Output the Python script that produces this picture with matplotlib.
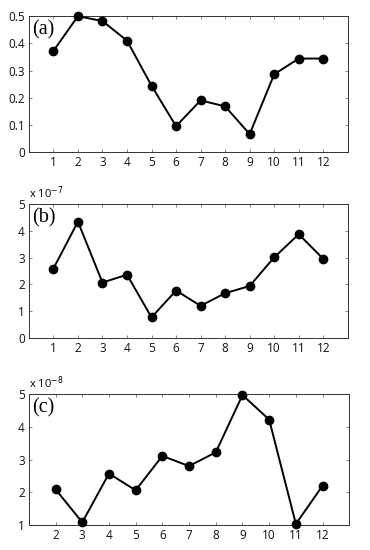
import matplotlib.pyplot as plt

# =====================================================
# DATA
# =====================================================

months_a = [1, 2, 3, 4, 5, 6, 7, 8, 9, 10, 11, 12]
values_a = [0.372, 0.500, 0.482, 0.410, 0.244, 0.095, 0.190, 0.168, 0.066, 0.286, 0.344, 0.344]

months_b = [1, 2, 3, 4, 5, 6, 7, 8, 9, 10, 11, 12]
values_b = [2.59, 4.34, 2.07, 2.36, 0.77, 1.77, 1.20, 1.67, 1.94, 3.01, 3.87, 2.95]  # x 1e-7

months_c = [2, 3, 4, 5, 6, 7, 8, 9, 10, 11, 12]
values_c = [2.09, 1.08, 2.57, 2.06, 3.11, 2.80, 3.22, 4.97, 4.22, 1.03, 2.20]  # x 1e-8

yticks_a = [0, 0.1, 0.2, 0.3, 0.4, 0.5]
ytick_labels_a = ['0', '0.1', '0.2', '0.3', '0.4', '0.5']
yticks_b = [0, 1, 2, 3, 4, 5]
yticks_c = [1, 2, 3, 4, 5]

# =====================================================
# STYLE
# =====================================================

plt.rcParams['font.family'] = ['Open Sans', 'DejaVu Sans']
plt.rcParams['mathtext.fontset'] = 'dejavusans'

fig = plt.figure(figsize=(3.7, 5.5), dpi=100)


def style_axes(ax):
    for sp in ax.spines.values():
        sp.set_linewidth(0.7)
        sp.set_color('#333333')
    ax.tick_params(direction='in', length=2.5, width=0.5, color='#555555',
                   top=True, right=True, labelsize=8.5, pad=3,
                   labelcolor='#111111')


def draw_panel(ax, x, y, label):
    ax.plot(x, y, color='black', linewidth=1.4, marker='o', clip_on=False,
            markersize=6, markerfacecolor='black', markeredgecolor='black',
            zorder=3)
    ax.text(0.01, 0.97, label, transform=ax.transAxes, ha='left', va='top',
            fontsize=14.5, family='Liberation Serif')
    style_axes(ax)


# (a)
ax1 = fig.add_axes([0.078, 0.7236, 0.862, 0.247])
draw_panel(ax1, months_a, values_a, '(a)')
ax1.set_xlim(0, 13)
ax1.set_ylim(0, 0.5)
ax1.set_xticks(months_a)
ax1.set_yticks(yticks_a)
ax1.set_yticklabels(ytick_labels_a)

# (b)
ax2 = fig.add_axes([0.078, 0.3855, 0.862, 0.2436])
draw_panel(ax2, months_b, values_b, '(b)')
ax2.set_xlim(0, 13)
ax2.set_ylim(0, 5)
ax2.set_xticks(months_b)
ax2.set_yticks(yticks_b)
ax2.text(0.0, 1.02, r'x 10$^{-7}$', transform=ax2.transAxes,
         ha='left', va='bottom', fontsize=8)

# (c)
ax3 = fig.add_axes([0.078, 0.0455, 0.866, 0.238])
draw_panel(ax3, months_c, values_c, '(c)')
ax3.set_xlim(1, 13)
ax3.set_ylim(1, 5)
ax3.set_xticks(months_c)
ax3.set_yticks(yticks_c)
ax3.text(0.0, 1.02, r'x 10$^{-8}$', transform=ax3.transAxes,
         ha='left', va='bottom', fontsize=8)

fig.savefig('out.png', dpi=100)
